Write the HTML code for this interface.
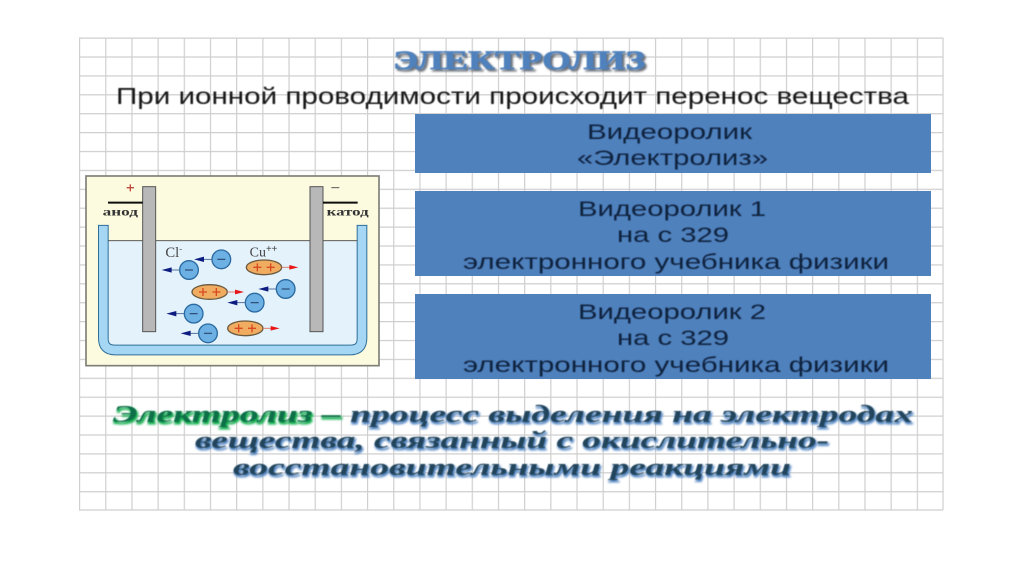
<!DOCTYPE html>
<html lang="ru"><head><meta charset="utf-8"><title>Электролиз</title>
<style>html,body{margin:0;padding:0;background:#fff;width:1024px;height:574px;overflow:hidden}svg{display:block}
text{font-family:"Liberation Sans","Noto Sans CJK SC",sans-serif}
.s{font-family:"Liberation Serif","Noto Serif CJK SC",serif}</style></head>
<body>
<svg width="1024" height="574" viewBox="0 0 1024 574" xmlns="http://www.w3.org/2000/svg">
<defs>
<filter id="b" x="-5%" y="-5%" width="110%" height="110%"><feGaussianBlur stdDeviation="0.45"/></filter>
<filter id="b2" x="-5%" y="-20%" width="110%" height="140%"><feGaussianBlur stdDeviation="1"/></filter>
<pattern id="g" x="79" y="37.5" width="26.18" height="18.9" patternUnits="userSpaceOnUse">
<path d="M0.6 0V18.9M0 0.6H26.18" stroke="#cfcfcf" stroke-width="1.2" fill="none"/></pattern>
<g id="neg"><path d="M-62 0H-28" stroke="#3a5a90" stroke-width="2.5"/><path d="M-52-8L-82 0L-52 8Z" fill="#101f80"/><circle r="28" fill="#6db0e4" stroke="#2a6aa0" stroke-width="4"/><path d="M-12 0H12" stroke="#2a4a70" stroke-width="3.5"/></g>
<g id="pos"><ellipse rx="53" ry="22" fill="#f0ac60" stroke="#6a5a40" stroke-width="4"/><path d="M-32 0H-8M-20-12V12M8 0H32M20-12V12" stroke="#d84a20" stroke-width="4"/><path d="M53 0H78" stroke="#e08070" stroke-width="3"/><path d="M76-7L103 0L76 7Z" fill="#e81818"/></g>
</defs>
<rect width="1024" height="574" fill="#fff"/>
<rect x="79" y="37.5" width="864" height="472.5" fill="url(#g)"/>
<path d="M943 37.5V510M79 510H943" stroke="#cfcfcf" stroke-width="1.2"/>

<text class="s" x="395" y="71" font-size="26" font-weight="700" fill="#6a6f78" stroke="#6a6f78" stroke-width="1" textLength="252" lengthAdjust="spacingAndGlyphs" filter="url(#b2)">ЭЛЕКТРОЛИЗ</text>
<text class="s" x="393" y="69" font-size="26" font-weight="700" fill="#4f81bd" stroke="#4f81bd" stroke-width=".7" textLength="252" lengthAdjust="spacingAndGlyphs" filter="url(#b)">ЭЛЕКТРОЛИЗ</text>

<text x="116" y="104" font-size="23" fill="#151515" textLength="793" lengthAdjust="spacingAndGlyphs" filter="url(#b)">При ионной проводимости происходит перенос вещества</text>

<g fill="#4f81bd"><rect x="415" y="114" width="516" height="59"/><rect x="415" y="191" width="516" height="85"/><rect x="415" y="294" width="516" height="85"/></g>
<g font-size="21" fill="#10203c" filter="url(#b)">
<text x="587" y="139" textLength="165" lengthAdjust="spacingAndGlyphs">Видеоролик</text><text x="577" y="165" textLength="191" lengthAdjust="spacingAndGlyphs">«Электролиз»</text>
<text x="578" y="216" textLength="188" lengthAdjust="spacingAndGlyphs">Видеоролик 1</text><text x="617" y="242" textLength="112" lengthAdjust="spacingAndGlyphs">на с 329</text><text x="463" y="269" textLength="426" lengthAdjust="spacingAndGlyphs">электронного учебника физики</text>
<text x="578" y="319" textLength="188" lengthAdjust="spacingAndGlyphs">Видеоролик 2</text><text x="617" y="345" textLength="112" lengthAdjust="spacingAndGlyphs">на с 329</text><text x="463" y="372" textLength="426" lengthAdjust="spacingAndGlyphs">электронного учебника физики</text>
</g>

<g filter="url(#b)" transform="translate(80 170) scale(.33333)">
<rect x="18" y="18" width="879" height="569" fill="#fdfbdf" stroke="#7f7f78" stroke-width="5"/>
<rect x="84" y="212" width="748" height="316" fill="#e3f2fb"/>
<path d="M70 166V505Q70 540 105 540H811Q846 540 846 505V166" fill="none" stroke="#2f6e98" stroke-width="32"/>
<path d="M70 166V505Q70 540 105 540H811Q846 540 846 505V166" fill="none" stroke="#a5d6f4" stroke-width="26"/>
<path d="M54 166H86M830 166H862" stroke="#2f6e98" stroke-width="3"/>
<path d="M84 212H832" stroke="#444" stroke-width="2.5"/>
<rect x="188" y="50" width="39" height="435" fill="#b8b8b8" stroke="#555" stroke-width="3"/>
<rect x="690" y="50" width="39" height="435" fill="#b8b8b8" stroke="#555" stroke-width="3"/>
<path d="M84 98H188M729 98H833" stroke="#111" stroke-width="6"/>
<text class="s" x="68" y="136" font-size="36" font-weight="700" fill="#333" textLength="106" lengthAdjust="spacingAndGlyphs">анод</text>
<text class="s" x="740" y="136" font-size="36" font-weight="700" fill="#333" textLength="126" lengthAdjust="spacingAndGlyphs">катод</text>
<path d="M140 53H162M151 43V64" stroke="#c04a40" stroke-width="4"/>
<path d="M754 53H778" stroke="#555" stroke-width="3"/>
<text class="s" x="256" y="261" font-size="44" fill="#444">Cl<tspan font-size="26" dy="-16">-</tspan></text>
<text class="s" x="509" y="260" font-size="42" fill="#444">Cu<tspan font-size="30" dy="-14" font-weight="700">++</tspan></text>
<use href="#neg" x="424" y="268"/><use href="#neg" x="327" y="300"/><use href="#neg" x="617" y="357"/><use href="#neg" x="524" y="398"/><use href="#neg" x="341" y="431"/><use href="#neg" x="384" y="490"/>
<use href="#pos" x="552" y="292"/><use href="#pos" x="389" y="366"/><use href="#pos" x="496" y="475"/>
</g>

<g class="s" font-size="24" font-weight="700" font-style="italic">
<g fill="#4f81bd" stroke="#5f8fc8" stroke-width="1" filter="url(#b2)">
<text class="s" x="114" y="424" textLength="800" lengthAdjust="spacingAndGlyphs"><tspan fill="#19b050" stroke="#19b050">Электролиз –</tspan> процесс выделения на электродах</text>
<text class="s" x="196" y="450" textLength="634" lengthAdjust="spacingAndGlyphs">вещества, связанный с окислительно-</text>
<text class="s" x="234" y="477" textLength="558" lengthAdjust="spacingAndGlyphs">восстановительными реакциями</text>
</g>
<g fill="#24445c" filter="url(#b)">
<text class="s" x="113" y="422" textLength="800" lengthAdjust="spacingAndGlyphs"><tspan fill="#0f6f48">Электролиз –</tspan> процесс выделения на электродах</text>
<text class="s" x="195" y="448" textLength="634" lengthAdjust="spacingAndGlyphs">вещества, связанный с окислительно-</text>
<text class="s" x="233" y="475" textLength="558" lengthAdjust="spacingAndGlyphs">восстановительными реакциями</text>
</g>
</g>
</svg>
</body></html>
